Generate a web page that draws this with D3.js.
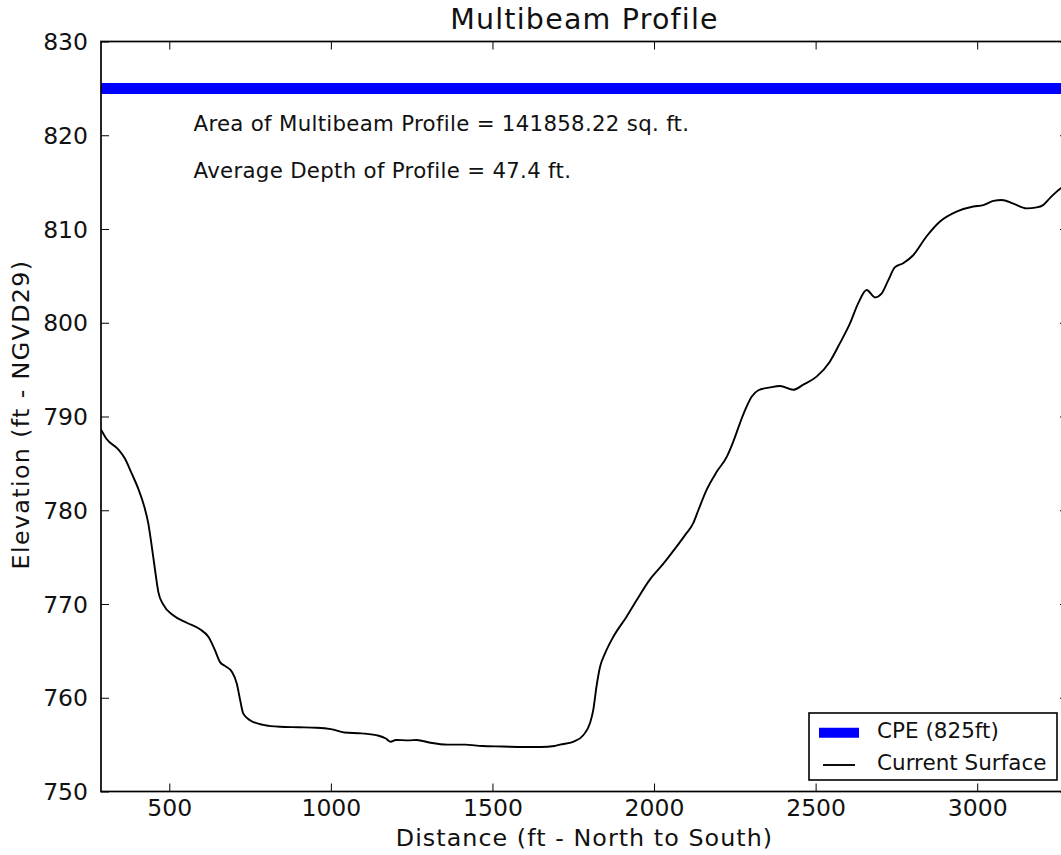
<!DOCTYPE html>
<html><head><meta charset="utf-8">
<script src="https://cdn.jsdelivr.net/npm/d3@7"></script>
<style>
html,body{margin:0;padding:0;background:#fff;overflow:hidden;}
svg{display:block;font-family:"DejaVu Sans",sans-serif;}
</style></head>
<body><svg id="c" width="1061" height="855"></svg>
<script>
const distance = [289,306,342,363,384,404,420,435,446,456,466,482,512,554,595,621,641,657,672,693,709,719,729,750,791,842,900,956,1000,1042,1095,1148,1170,1185,1201,1240,1266,1308,1361,1415,1468,1532,1595,1650,1692,1709,1750,1781,1802,1812,1822,1833,1848,1874,1915,1946,1987,2029,2065,2096,2121,2137,2163,2194,2225,2245,2266,2282,2302,2323,2359,2390,2431,2462,2503,2544,2575,2606,2632,2658,2684,2704,2725,2745,2771,2802,2843,2885,2936,2988,3019,3050,3076,3112,3153,3184,3204,3225,3259,3281];
const elevation = [788.6,787.6,786.5,785.5,783.9,782.3,780.7,778.6,776.1,773.6,771.3,769.9,768.8,768.0,767.3,766.5,765.1,763.8,763.4,762.8,761.5,759.8,758.3,757.6,757.1,756.9,756.85,756.8,756.65,756.3,756.2,755.95,755.65,755.3,755.5,755.45,755.5,755.2,755.0,755.0,754.85,754.8,754.75,754.75,754.85,755.0,755.3,756.0,757.3,758.7,761.2,763.3,764.7,766.5,768.65,770.4,772.6,774.3,775.9,777.35,778.6,780.0,782.2,784.1,785.7,787.3,789.3,790.7,792.1,792.8,793.1,793.25,792.85,793.4,794.25,795.85,797.8,799.9,802.1,803.5,802.7,803.1,804.55,805.9,806.35,807.2,809.2,810.8,811.85,812.4,812.55,813.0,813.1,812.7,812.2,812.3,812.55,813.3,814.35,814.8];
const cpeLevel = 825;
const xTicks = [500,1000,1500,2000,2500,3000];
const yTicks = [750,760,770,780,790,800,810,820,830];
const xDomain = [288.7, 3281];
const yDomain = [750, 830];
const titleText = "Multibeam Profile";
const xLabel = "Distance (ft - North to South)";
const yLabel = "Elevation (ft - NGVD29)";
const notes = ["Area of Multibeam Profile = 141858.22 sq. ft.", "Average Depth of Profile = 47.4 ft."];
const noteX = 575;
const noteY = [820.45, 815.45];
const legendLabels = ["CPE (825ft)", "Current Surface"];

const svg = d3.select("#c");
const L = 101, R = 1068, T = 41.5, B = 791.5;
const x = d3.scaleLinear().domain(xDomain).range([L, R]);
const y = d3.scaleLinear().domain(yDomain).range([B, T]);

svg.append("defs").append("clipPath").attr("id","clip")
  .append("rect").attr("x",L).attr("y",T).attr("width",R-L).attr("height",B-T);

const plot = svg.append("g").attr("clip-path","url(#clip)");
plot.append("line").attr("x1",x(xDomain[0])).attr("x2",x(xDomain[1]))
  .attr("y1",y(cpeLevel)).attr("y2",y(cpeLevel))
  .attr("stroke","#0000ff").attr("stroke-width",11);

const pts = distance.map((d,i)=>[d, elevation[i]]);
plot.append("path").datum(pts)
  .attr("fill","none").attr("stroke","#000").attr("stroke-width",1.9)
  .attr("stroke-linejoin","round")
  .attr("d", d3.line().x(d=>x(d[0])).y(d=>y(d[1])).curve(d3.curveMonotoneX));

// axes with inward ticks
const tl = 8;
const gx = svg.append("g").attr("transform",`translate(0,${B})`)
  .call(d3.axisBottom(x).tickValues(xTicks).tickSize(-tl).tickPadding(8).tickFormat(d3.format("d")));
const gxt = svg.append("g").attr("transform",`translate(0,${T})`)
  .call(d3.axisTop(x).tickValues(xTicks).tickSize(-tl).tickFormat(""));
const gy = svg.append("g").attr("transform",`translate(${L},0)`)
  .call(d3.axisLeft(y).tickValues(yTicks).tickSize(-tl).tickPadding(13).tickFormat(d3.format("d")));
const gyr = svg.append("g").attr("transform",`translate(${R},0)`)
  .call(d3.axisRight(y).tickValues(yTicks).tickSize(-tl).tickFormat(""));
[gx,gxt,gy,gyr].forEach(g=>{
  g.select(".domain").remove();
  g.selectAll(".tick line").attr("stroke","#000").attr("stroke-width",1);
  g.selectAll(".tick text").attr("fill","#111").style("font-size","23.5px").style("font-family","DejaVu Sans");
});
gx.selectAll(".tick text").attr("dy","0.71em");
gy.selectAll(".tick text").attr("dy","0.35em");

svg.append("rect").attr("x",L).attr("y",T).attr("width",R-L).attr("height",B-T)
  .attr("fill","none").attr("stroke","#000").attr("stroke-width",1.7);

svg.append("text").attr("x",(L+R)/2).attr("y",29).attr("text-anchor","middle")
  .style("font-size","28.5px").style("letter-spacing","1.2px").attr("fill","#111").text(titleText);
svg.append("text").attr("x",(L+R)/2).attr("y",846).attr("text-anchor","middle")
  .style("font-size","23.8px").style("letter-spacing","1.05px").attr("fill","#111").text(xLabel);
svg.append("text").attr("transform",`translate(29,${(T+B)/2 - 2}) rotate(-90)`).attr("text-anchor","middle")
  .style("font-size","23.8px").style("letter-spacing","1.35px").attr("fill","#111").text(yLabel);

notes.forEach((t,i)=>{
  svg.append("text").attr("x",x(noteX)).attr("y",y(noteY[i]))
    .style("font-size","21.3px").style("letter-spacing","0.3px").attr("fill","#111").text(t);
});

// legend
const lg = svg.append("g");
lg.append("rect").attr("x",809).attr("y",713).attr("width",248).attr("height",67)
  .attr("fill","#fff").attr("stroke","#000").attr("stroke-width",1.6);
lg.append("line").attr("x1",819).attr("x2",859).attr("y1",732.7).attr("y2",732.7)
  .attr("stroke","#0000ff").attr("stroke-width",10);
lg.append("line").attr("x1",823).attr("x2",855).attr("y1",765).attr("y2",765)
  .attr("stroke","#000").attr("stroke-width",1.9);
legendLabels.forEach((t,i)=>{
  lg.append("text").attr("x",877).attr("y",[737.5,770][i])
    .style("font-size","21.5px").attr("fill","#111").text(t);
});
</script></body></html>
